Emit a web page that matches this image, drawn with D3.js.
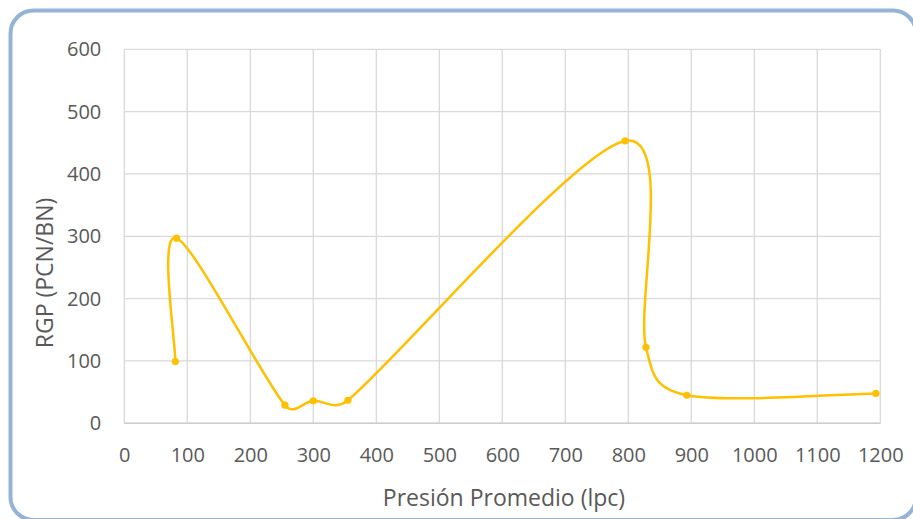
<!DOCTYPE html>
<html>
<head>
<meta charset="utf-8">
<script src="https://cdn.jsdelivr.net/npm/d3@7"></script>
<style>
  html, body { margin: 0; padding: 0; background: #fff; }
  svg { display: block; }
  text { font-family: "Open Sans", "Liberation Sans", sans-serif; fill: #595959; }
</style>
</head>
<body>
<svg id="chart" width="913" height="519"></svg>
<script>
// Average pressure (lpc) vs. gas-oil ratio RGP (PCN/BN)
const presion = [81, 83, 255, 300, 355, 795, 828, 893, 1193];
const rgp     = [99, 297, 29, 36, 37, 453, 122, 45, 48];
const xTicks = [0, 100, 200, 300, 400, 500, 600, 700, 800, 900, 1000, 1100, 1200];
const yTicks = [0, 100, 200, 300, 400, 500, 600];
const xTitle = "Presión Promedio (lpc)";
const yTitle = "RGP (PCN/BN)";

const svg = d3.select("#chart");
const plot = { left: 124.3, right: 880.3, top: 49.3, bottom: 423.3 };

// outer frame with rounded corners
svg.append("rect")
  .attr("x", 10.5).attr("y", 10.5)
  .attr("width", 905.5).attr("height", 509.5)
  .attr("rx", 23).attr("ry", 23)
  .attr("fill", "#fff")
  .attr("stroke", "#95b3d7")
  .attr("stroke-width", 4);

const x = d3.scaleLinear().domain([0, 1200]).range([plot.left, plot.right]);
const y = d3.scaleLinear().domain([0, 600]).range([plot.bottom, plot.top]);

// gridlines
const grid = svg.append("g").attr("stroke", "#d9d9d9").attr("stroke-width", 1.3);
grid.selectAll("line.v").data(xTicks).join("line")
  .attr("class", "v")
  .attr("x1", d => x(d)).attr("x2", d => x(d))
  .attr("y1", plot.top).attr("y2", plot.bottom);
grid.selectAll("line.h").data(yTicks).join("line")
  .attr("class", "h")
  .attr("x1", plot.left).attr("x2", plot.right)
  .attr("y1", d => y(d)).attr("y2", d => y(d));

// axes: tick labels only
const xAxis = svg.append("g")
  .attr("transform", `translate(0,${plot.bottom})`)
  .call(d3.axisBottom(x).tickValues(xTicks).tickSize(0).tickPadding(25).tickFormat(d3.format("d")));
const yAxis = svg.append("g")
  .attr("transform", `translate(${plot.left},0)`)
  .call(d3.axisLeft(y).tickValues(yTicks).tickSize(0).tickPadding(23).tickFormat(d3.format("d")));
[xAxis, yAxis].forEach(g => {
  g.select(".domain").remove();
  g.selectAll("text")
    .attr("fill", "#595959")
    .style("font-size", "20px")
    .style("font-family", '"Open Sans", "Liberation Sans", sans-serif');
});
svg.append("line")
  .attr("x1", plot.left).attr("x2", plot.right)
  .attr("y1", plot.bottom).attr("y2", plot.bottom)
  .attr("stroke", "#cccccc").attr("stroke-width", 1.5);

// axis titles
svg.append("text")
  .attr("x", 504)
  .attr("y", 506)
  .attr("text-anchor", "middle")
  .style("font-size", "23px")
  .text(xTitle);
svg.append("text")
  .attr("transform", "translate(52.5,273) rotate(-90)")
  .attr("text-anchor", "middle")
  .style("font-size", "23px")
  .text(yTitle);

// Smoothed line: cubic Bezier segments with Catmull-Rom style tangents
// (neighbour difference / 6), each control arm capped at half the segment length.
function smoothPath(p) {
  const path = d3.path();
  const n = p.length;
  const sub = (a, b) => [a[0] - b[0], a[1] - b[1]];
  const len = v => Math.hypot(v[0], v[1]);
  const arm = (v, maxLen) => {
    const s = [v[0] / 6, v[1] / 6];
    const l = len(s);
    return l > maxLen ? [s[0] * maxLen / l, s[1] * maxLen / l] : s;
  };
  path.moveTo(p[0][0], p[0][1]);
  for (let i = 0; i < n - 1; i++) {
    const p0 = p[Math.max(i - 1, 0)], p1 = p[i], p2 = p[i + 1], p3 = p[Math.min(i + 2, n - 1)];
    const half = len(sub(p2, p1)) / 2;
    const a = arm(sub(p2, p0), half);
    const b = arm(sub(p3, p1), half);
    path.bezierCurveTo(p1[0] + a[0], p1[1] + a[1], p2[0] - b[0], p2[1] - b[1], p2[0], p2[1]);
  }
  return path.toString();
}

const pts = presion.map((p, i) => [x(p), y(rgp[i])]);
svg.append("path")
  .attr("d", smoothPath(pts))
  .attr("fill", "none")
  .attr("stroke", "#ffc000")
  .attr("stroke-width", 2.5)
  .attr("stroke-linejoin", "round");
svg.append("g").selectAll("circle").data(presion).join("circle")
  .attr("cx", d => x(d)).attr("cy", (d, i) => y(rgp[i]))
  .attr("r", 3.6)
  .attr("fill", "#ffc000");
</script>
</body>
</html>
